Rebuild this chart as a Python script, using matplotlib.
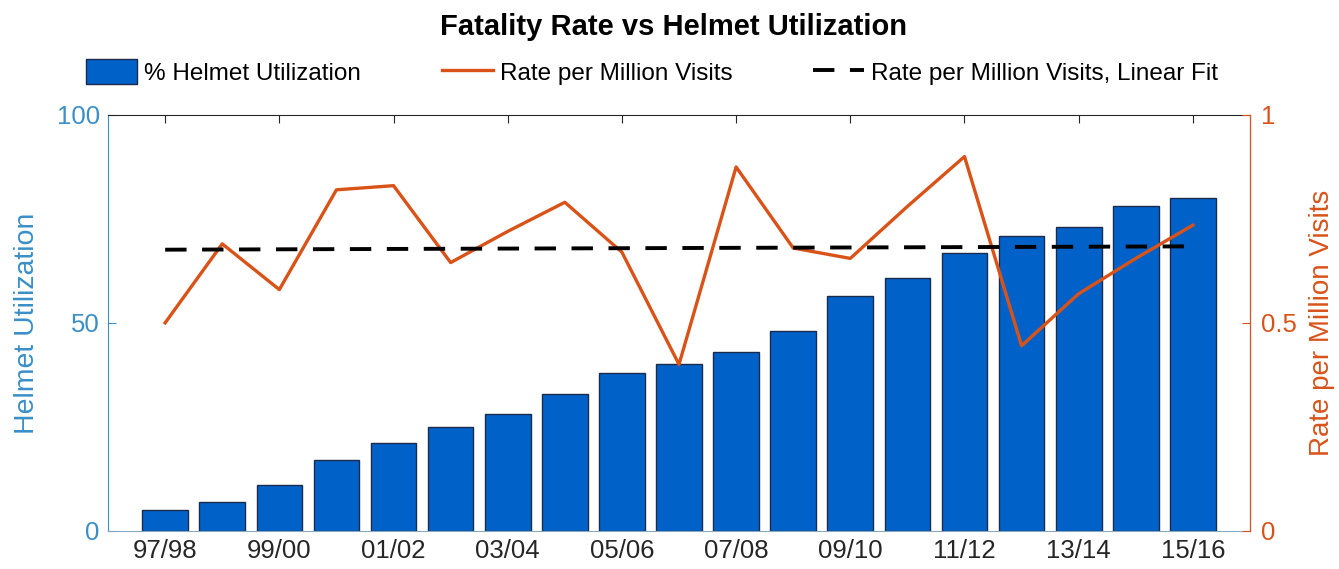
import numpy as np
from matplotlib import pyplot as plt

seasons = ["97/98", "98/99", "99/00", "00/01", "01/02", "02/03", "03/04", "04/05",
           "05/06", "06/07", "07/08", "08/09", "09/10", "10/11", "11/12", "12/13",
           "13/14", "14/15", "15/16"]
helmet_pct = [5, 7, 11, 17, 21, 25, 28, 33, 38, 40, 43, 48, 56.5, 60.7, 66.8, 71, 73, 78, 80]
rate = [0.50, 0.69, 0.58, 0.82, 0.83, 0.645, 0.72, 0.79, 0.67, 0.40, 0.875, 0.68,
        0.655, 0.78, 0.90, 0.445, 0.57, 0.655, 0.735]
fit_ends = [0.676, 0.684]

blue_axis = "#3a8fc7"
orange = "#d95319"
bar_blue = "#0062c8"

plt.rcParams['font.family'] = ['Liberation Sans', 'DejaVu Sans']

fig = plt.figure(figsize=(13.39, 5.69), dpi=100)
ax = fig.add_axes([0.0807, 0.0673, 0.8528, 0.7306])
x = np.arange(1, len(seasons) + 1)

bars = ax.bar(x, helmet_pct, width=0.8, color=bar_blue, edgecolor="#1a2a4a",
              linewidth=1, label="% Helmet Utilization", zorder=2)
ax.set_xlim(0, 20)
ax.set_ylim(0, 100)
ax.set_yticks([0, 50, 100])
ax.set_xticks(x[::2])
ax.set_xticklabels(seasons[::2])
ax.set_ylabel("Helmet Utilization", color=blue_axis, fontsize=20.5, labelpad=12)
ax.tick_params(axis='y', colors=blue_axis, labelsize=18.5, direction='in', length=6, pad=6)
ax.tick_params(axis='x', colors="#262626", labelsize=18.5, direction='in', length=6,
               top=True, pad=6)
ax.spines['left'].set_color(blue_axis)
ax.spines['bottom'].set_color("#8aa9bf")
ax.spines['top'].set_color("#262626")

ax2 = ax.twinx()
ax2.set_ylim(0, 1)
ax2.set_yticks([0, 0.5, 1])
ax2.set_yticklabels(["0", "0.5", "1"])
line, = ax2.plot(x, rate, color=orange, linewidth=2.4, label="Rate per Million Visits", zorder=3)
fit, = ax2.plot([x[0], x[-1]], fit_ends, color="black", linewidth=2.8, dashes=(5.5, 4),
                label="Rate per Million Visits, Linear Fit", zorder=3)
ax2.set_ylabel("Rate per Million Visits", color=orange, fontsize=20, labelpad=9)
ax2.tick_params(axis='y', colors=orange, labelsize=18.5, direction='in', length=6, pad=8)
ax2.spines['right'].set_color(orange)
ax2.spines['left'].set_visible(False)
ax2.spines['top'].set_visible(False)
ax2.spines['bottom'].set_visible(False)

fig.suptitle("Fatality Rate vs Helmet Utilization", fontsize=21, fontweight='bold',
             y=0.978, x=0.503)
fig.legend(handles=[bars, line, fit], loc='center', bbox_to_anchor=(0.487, 0.873),
           ncol=3, frameon=False, fontsize=17.5, handlelength=2.1, handletextpad=0.3,
           columnspacing=3.3, handleheight=1.2)

fig.savefig("out.png", dpi=100)
